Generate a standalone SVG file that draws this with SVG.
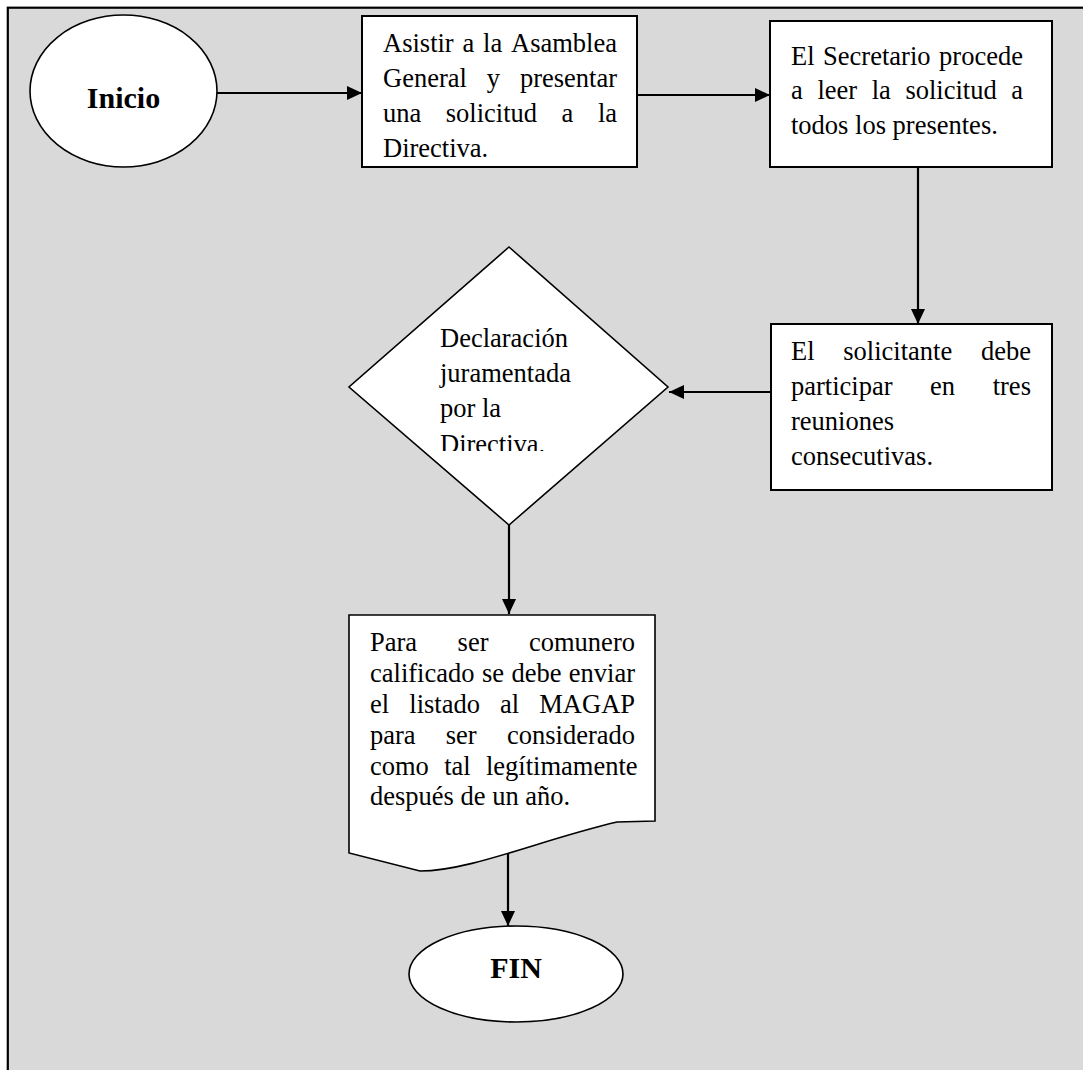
<svg xmlns="http://www.w3.org/2000/svg" width="1083" height="1070" viewBox="0 0 1083 1070">
<defs>
<style>
.t{font-family:"Liberation Serif","Times New Roman",serif;font-size:26.5px;fill:#000}
.b{font-family:"Liberation Serif","Times New Roman",serif;font-size:30px;font-weight:bold;fill:#000;text-anchor:middle}
.shape{fill:#fff;stroke:#000;stroke-width:2}
.thin{fill:#fff;stroke:#000;stroke-width:1.6}
.conn{stroke:#000;stroke-width:2.2;fill:none;marker-end:url(#arr)}
</style>
<marker id="arr" markerUnits="userSpaceOnUse" markerWidth="16" markerHeight="14" refX="15" refY="7" orient="auto">
<path d="M0,0 L15,7 L0,14 Z" fill="#000"/>
</marker>
<clipPath id="dclip"><rect x="340" y="240" width="340" height="211"/></clipPath>
</defs>
<rect x="0" y="0" width="1083" height="1070" fill="#fff"/>
<rect x="7.8" y="7.7" width="1100" height="1100" fill="#d9d9d9" stroke="#000" stroke-width="2.2"/>

<g id="connectors">
<line class="conn" x1="217" y1="93" x2="362" y2="93"/>
<line class="conn" x1="637" y1="95" x2="770" y2="95"/>
<line class="conn" x1="918" y1="167" x2="918" y2="324"/>
<line class="conn" x1="771" y1="392" x2="669" y2="392"/>
<line class="conn" x1="509" y1="525" x2="509" y2="614"/>
<line class="conn" x1="508" y1="852" x2="508" y2="926"/>
</g>

<g id="inicio">
<ellipse class="thin" cx="123.5" cy="91" rx="93.5" ry="76"/>
<text class="b" x="123.5" y="108">Inicio</text>
</g>

<g id="asistir">
<rect class="shape" x="362" y="16" width="275" height="151"/>
<text class="t" y="52"><tspan x="383">Asistir</tspan><tspan x="462.5">a</tspan><tspan x="483.1">la</tspan><tspan x="511">Asamblea</tspan></text>
<text class="t" y="87"><tspan x="383">General</tspan><tspan x="486.8">y</tspan><tspan x="519.9">presentar</tspan></text>
<text class="t" y="122"><tspan x="383">una</tspan><tspan x="445.8">solicitud</tspan><tspan x="561.6">a</tspan><tspan x="597.9">la</tspan></text>
<text class="t" x="383" y="157">Directiva.</text>
</g>

<g id="secretario">
<rect class="shape" x="770" y="21" width="282" height="146"/>
<text class="t" y="64.5"><tspan x="791">El</tspan><tspan x="823.1">Secretario</tspan><tspan x="939.1">procede</tspan></text>
<text class="t" y="99"><tspan x="791">a</tspan><tspan x="817.4">leer</tspan><tspan x="871.7">la</tspan><tspan x="905.4">solicitud</tspan><tspan x="1011.2">a</tspan></text>
<text class="t" x="791" y="133.5">todos los presentes.</text>
</g>

<g id="solicitante">
<rect class="shape" x="771" y="324" width="281" height="166"/>
<text class="t" y="360"><tspan x="791">El</tspan><tspan x="843.3">solicitante</tspan><tspan x="981">debe</tspan></text>
<text class="t" y="395"><tspan x="791">participar</tspan><tspan x="930.1">en</tspan><tspan x="992.7">tres</tspan></text>
<text class="t" x="791" y="430">reuniones</text>
<text class="t" x="791" y="465">consecutivas.</text>
</g>

<g id="declaracion">
<polygon class="thin" points="509,247 668,387 509,525 349,387"/>
<g clip-path="url(#dclip)">
<text class="t" x="440" y="347">Declaración</text>
<text class="t" x="440" y="382">juramentada</text>
<text class="t" x="440" y="417">por la</text>
<text class="t" x="440" y="452.5">Directiva.</text>
</g>
</g>

<g id="comunero">
<path class="thin" d="M349,615 H655 V821 L617,822 C540,840 470,871 420,871 L349,853 Z"/>
<text class="t" y="651"><tspan x="370">Para</tspan><tspan x="457.6">ser</tspan><tspan x="529">comunero</tspan></text>
<text class="t" y="682"><tspan x="370">calificado</tspan><tspan x="481.9">se</tspan><tspan x="511.4">debe</tspan><tspan x="568.8">enviar</tspan></text>
<text class="t" y="713"><tspan x="370">el</tspan><tspan x="409.3">listado</tspan><tspan x="500.1">al</tspan><tspan x="539.3">MAGAP</tspan></text>
<text class="t" y="744"><tspan x="370">para</tspan><tspan x="445.8">ser</tspan><tspan x="507">considerado</tspan></text>
<text class="t" y="775"><tspan x="370">como</tspan><tspan x="444.2">tal</tspan><tspan x="486">legítimamente</tspan></text>
<text class="t" x="370" y="805">después de un año.</text>
</g>

<g id="fin">
<ellipse class="thin" cx="516" cy="974" rx="107" ry="48"/>
<text class="b" x="516" y="978">FIN</text>
</g>
</svg>
